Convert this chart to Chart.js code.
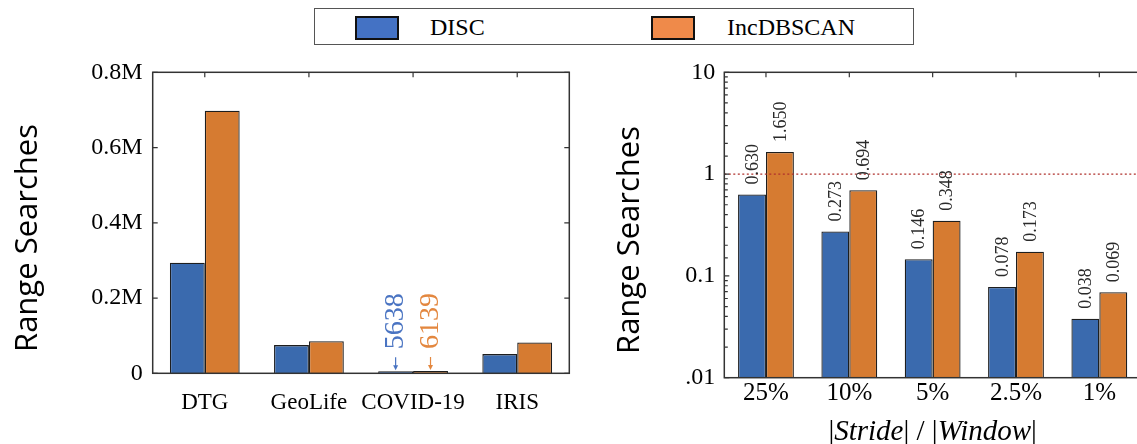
<!DOCTYPE html>
<html>
<head>
<meta charset="utf-8">
<script src="https://cdn.jsdelivr.net/npm/chart.js@4.4.0/dist/chart.umd.min.js"></script>
<style>
  html, body { margin: 0; padding: 0; background: #fff; }
  #wrap { position: relative; width: 1137px; height: 444px; overflow: hidden; background: #fff; }
  #legend { position: absolute; left: 314px; top: 8px; width: 598px; height: 35px;
            border: 1.5px solid #555; background: #fff; font-family: "Liberation Serif", serif; }
  .sw { position: absolute; top: 7px; width: 40px; height: 20px; border: 2.5px solid #111; }
  .lb { position: absolute; top: 4px; font-size: 24px; line-height: 28px; color: #000; }
</style>
</head>
<body>
<div id="wrap">
  <canvas id="leftChart" width="600" height="444" style="position:absolute;left:0;top:0;"></canvas>
  <canvas id="rightChart" width="560" height="444" style="position:absolute;left:600px;top:0;"></canvas>
  <div id="legend"></div>
</div>
<script>
// data
const seriesNames = ['DISC', 'IncDBSCAN'];
const datasetsLeft = ['DTG', 'GeoLife', 'COVID-19', 'IRIS'];
const discLeft = [294000, 75000, 5638, 51000];
const incLeft = [698000, 85000, 6139, 82000];

const strideLabels = ['25%', '10%', '5%', '2.5%', '1%'];
const discRight = [0.630, 0.273, 0.146, 0.078, 0.038];
const incRight = [1.650, 0.694, 0.348, 0.173, 0.069];

const barColors = ['#3a6aae', '#d67b31'];
const swatchColors = ['#4472c4', '#ef8a4a'];
const noteColors = ['#4a74c2', '#e3873f'];

// legend
const legend = document.getElementById('legend');
const swLeft = [40, 336];
const lbLeft = [115, 412];
seriesNames.forEach((name, i) => {
    const sw = document.createElement('span');
    sw.className = 'sw';
    sw.style.left = swLeft[i] + 'px';
    sw.style.background = swatchColors[i];
    legend.appendChild(sw);
    const lb = document.createElement('span');
    lb.className = 'lb';
    lb.style.left = lbLeft[i] + 'px';
    lb.textContent = name;
    legend.appendChild(lb);
});

const serif = '"Liberation Serif", "Times New Roman", serif';
const tickColor = '#000';

function drawRotated(ctx, text, x, y, font, color, align) {
    ctx.save();
    ctx.translate(x, y);
    ctx.rotate(-Math.PI / 2);
    ctx.font = font;
    ctx.fillStyle = color;
    ctx.textAlign = align;
    ctx.textBaseline = 'middle';
    ctx.fillText(text, 0, 0);
    ctx.restore();
}

// box, inward ticks and y title
const frame = {
    id: 'frame',
    afterDraw(chart, args, opts) {
        const ctx = chart.ctx;
        const a = chart.chartArea;
        const xs = chart.scales.x, ys = chart.scales.y;
        ctx.save();
        ctx.strokeStyle = '#333';
        ctx.lineWidth = 1.5;
        ctx.strokeRect(a.left, a.top, a.right - a.left, a.bottom - a.top);
        ctx.lineWidth = 1.2;
        ctx.beginPath();
        xs.ticks.forEach((t, i) => {
            const x = xs.getPixelForTick(i);
            ctx.moveTo(x, a.top);
            ctx.lineTo(x, a.top + 5);
        });
        ys.ticks.forEach(t => {
            const y = ys.getPixelForValue(t.value);
            const lg = Math.log10(t.value);
            const major = !opts.log || Math.abs(lg - Math.round(lg)) < 1e-9;
            const len = major ? 5 : 3.5;
            ctx.moveTo(a.left, y);
            ctx.lineTo(a.left + len, y);
            if (opts.both) {
                ctx.moveTo(a.right, y);
                ctx.lineTo(a.right - len, y);
            }
        });
        ctx.stroke();
        ctx.restore();
        drawRotated(ctx, 'Range Searches', opts.titleX, opts.titleY,
            '31px "Open Sans", sans-serif', '#000', 'center');
    }
};

// small value notes on COVID-19 bars
const covidNote = {
    id: 'covidNote',
    afterDatasetsDraw(chart) {
        const ctx = chart.ctx;
        const idx = datasetsLeft.indexOf('COVID-19');
        chart.data.datasets.forEach((ds, di) => {
            const bar = chart.getDatasetMeta(di).data[idx];
            const x = bar.x, top = bar.y;
            ctx.save();
            ctx.strokeStyle = noteColors[di];
            ctx.fillStyle = noteColors[di];
            ctx.lineWidth = 1.2;
            ctx.beginPath();
            ctx.moveTo(x, top - 14);
            ctx.lineTo(x, top - 4);
            ctx.stroke();
            ctx.beginPath();
            ctx.moveTo(x - 2.5, top - 6);
            ctx.lineTo(x + 2.5, top - 6);
            ctx.lineTo(x, top - 1);
            ctx.closePath();
            ctx.fill();
            ctx.restore();
            drawRotated(ctx, String(ds.data[idx]), x, top - 22, '28px ' + serif, noteColors[di], 'left');
        });
    }
};

// value labels, dotted line at 1 and x title
const rightExtras = {
    id: 'rightExtras',
    afterDatasetsDraw(chart) {
        const ctx = chart.ctx;
        const a = chart.chartArea;
        const ys = chart.scales.y;
        const y1 = ys.getPixelForValue(1);
        ctx.save();
        ctx.strokeStyle = '#b0302c';
        ctx.lineWidth = 1.4;
        ctx.setLineDash([2, 2.5]);
        ctx.beginPath();
        ctx.moveTo(a.left, y1);
        ctx.lineTo(a.right, y1);
        ctx.stroke();
        ctx.restore();
        chart.data.datasets.forEach((ds, di) => {
            chart.getDatasetMeta(di).data.forEach((bar, i) => {
                drawRotated(ctx, ds.data[i].toFixed(3), bar.x + 1, bar.y - 10, '18px ' + serif, '#2a2a2a', 'left');
            });
        });
    },
    afterDraw(chart) {
        const ctx = chart.ctx;
        const a = chart.chartArea;
        const parts = [['|', ''], ['Stride', 'italic '], ['| / |', ''], ['Window', 'italic '], ['|', '']];
        ctx.save();
        ctx.fillStyle = '#000';
        ctx.textBaseline = 'alphabetic';
        ctx.textAlign = 'left';
        let total = 0;
        parts.forEach(p => { ctx.font = p[1] + '29px ' + serif; total += ctx.measureText(p[0]).width; });
        let x = (a.left + a.right) / 2 - total / 2;
        parts.forEach(p => {
            ctx.font = p[1] + '29px ' + serif;
            ctx.fillText(p[0], x, 440);
            x += ctx.measureText(p[0]).width;
        });
        ctx.restore();
    }
};

function barSet(label, data, i) {
    return {
        label: label,
        data: data,
        backgroundColor: barColors[i],
        borderColor: '#1e1e1e',
        borderWidth: 1.3,
        categoryPercentage: 0.67,
        barPercentage: 1.0
    };
}

const flatTicks = { autoSkip: false, maxRotation: 0, minRotation: 0, color: tickColor };

new Chart(document.getElementById('leftChart'), {
    type: 'bar',
    data: {
        labels: datasetsLeft,
        datasets: [barSet(seriesNames[0], discLeft, 0), barSet(seriesNames[1], incLeft, 1)]
    },
    options: {
        responsive: false,
        animation: false,
        layout: { padding: { top: 72.3, right: 30.7, bottom: 0, left: 0 } },
        plugins: {
            legend: { display: false },
            tooltip: { enabled: false },
            frame: { both: true, log: false, titleX: 28, titleY: 238 }
        },
        scales: {
            x: {
                grid: { display: false, drawTicks: false },
                border: { display: false },
                ticks: { ...flatTicks, font: { family: serif, size: 23 }, padding: 16 },
                afterFit: s => { s.height = 70.7; }
            },
            y: {
                min: 0,
                max: 800000,
                grid: { display: false, drawTicks: false },
                border: { display: false },
                ticks: {
                    stepSize: 200000,
                    font: { family: serif, size: 24 },
                    color: tickColor,
                    padding: 10,
                    callback: v => v === 0 ? '0' : (v / 1e6) + 'M'
                },
                afterFit: s => { s.width = 152.7; }
            }
        }
    },
    plugins: [frame, covidNote]
});

new Chart(document.getElementById('rightChart'), {
    type: 'bar',
    data: {
        labels: strideLabels,
        datasets: [barSet(seriesNames[0], discRight, 0), barSet(seriesNames[1], incRight, 1)]
    },
    options: {
        responsive: false,
        animation: false,
        layout: { padding: { top: 72.3, right: 19, bottom: 0, left: 0 } },
        plugins: {
            legend: { display: false },
            tooltip: { enabled: false },
            frame: { both: false, log: true, titleX: 30, titleY: 240 }
        },
        scales: {
            x: {
                grid: { display: false, drawTicks: false },
                border: { display: false },
                ticks: { ...flatTicks, font: { family: serif, size: 25 }, padding: 1 },
                afterFit: s => { s.height = 66.3; }
            },
            y: {
                type: 'logarithmic',
                min: 0.01,
                max: 10,
                grid: { display: false, drawTicks: false },
                border: { display: false },
                ticks: {
                    autoSkip: false,
                    font: { family: serif, size: 24 },
                    color: tickColor,
                    padding: 9,
                    callback: v => {
                        const lg = Math.log10(v);
                        if (Math.abs(lg - Math.round(lg)) > 1e-9) return '';
                        return v === 0.01 ? '.01' : String(v);
                    }
                },
                afterFit: s => { s.width = 124.3; }
            }
        }
    },
    plugins: [frame, rightExtras]
});
</script>
</body>
</html>
